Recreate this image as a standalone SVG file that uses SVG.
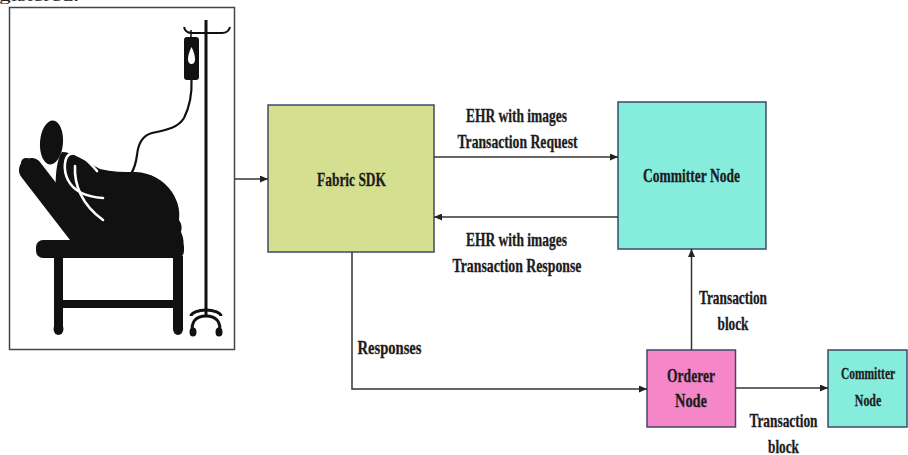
<svg xmlns="http://www.w3.org/2000/svg" width="908" height="455" viewBox="0 0 908 455">
  <style>
    .lbl { font-family: "Liberation Serif", "Times New Roman", serif; font-weight: bold; font-size: 19px; fill: #1c1c1c; stroke: #1c1c1c; stroke-width: 0.3; text-anchor: middle; }
    .sm { font-size: 17px; }
    .box { stroke: #3d4a68; stroke-width: 1.5; }
    .wire { fill: none; stroke: #333; stroke-width: 1.5; }
    .ink { fill: #111; }
    .gap { fill: none; stroke: #fff; stroke-width: 2.6; stroke-linecap: round; }
  </style>
  <defs>
    <marker id="arrow" markerWidth="8" markerHeight="7" refX="8" refY="3.5" orient="auto" markerUnits="userSpaceOnUse">
      <path d="M0,0 L8,3.5 L0,7 z" fill="#222"/>
    </marker>
  </defs>

  <rect width="908" height="455" fill="#fff"/>

  <!-- trailing line of the caption above -->
  <text x="-1" y="1" style="font-family: 'Liberation Serif', serif; font-size: 14px; fill: #222;" textLength="80" lengthAdjust="spacingAndGlyphs">gistered.</text>

  <!-- patient in hospital bed -->
  <g id="patient">
    <rect x="9.5" y="7.5" width="225" height="342" fill="#fff" stroke="#444" stroke-width="1.5"/>
    <!-- IV pole -->
    <line x1="206" y1="20" x2="206" y2="316" stroke="#111" stroke-width="3"/>
    <path d="M184,27 C185,32 188,33 192,33 L222,33 C226,33 229,31 230,27" fill="none" stroke="#111" stroke-width="2"/>
    <path d="M191,316 C191,313 198,310 206,310 C214,310 221,313 221,316" fill="none" stroke="#111" stroke-width="3"/>
    <path d="M193,333 C190,322 196,316 206,316 C216,316 222,322 219,333" fill="none" stroke="#111" stroke-width="3"/>
    <ellipse cx="193" cy="332" rx="3.5" ry="4.5" class="ink"/>
    <ellipse cx="219" cy="332" rx="3.5" ry="4.5" class="ink"/>
    <!-- IV bag -->
    <line x1="191" y1="30" x2="191" y2="38" stroke="#111" stroke-width="1.5"/>
    <rect x="184" y="37" width="15" height="43" rx="3" class="ink"/>
    <path d="M191.5,47 C194,52 195,56 195,59 C195,63 193,64 191.5,64 C190,64 188,63 188,59 C188,56 189,52 191.5,47 z" fill="#fff"/>
    <!-- drip line -->
    <path d="M191.5,80 C192,92 191,104 184,118 C178,128 166,130 152,133 C141,136 138,145 137,155 C136,163 134,169 131,174" fill="none" stroke="#111" stroke-width="2.2"/>
    <!-- head -->
    <ellipse cx="51.5" cy="142.5" rx="11.5" ry="22" transform="rotate(4 51.5 142.5)" class="ink"/>
    <!-- raised arm / backrest -->
    <line x1="31" y1="170" x2="82" y2="236" stroke="#111" stroke-width="24" stroke-linecap="round"/>
    <circle cx="26" cy="163" r="5" class="ink"/>
    <!-- body mass -->
    <path class="ink" d="M62,152 C72,152 84,160 100,169 C112,172 124,172 136,172 C150,173 163,179 172,192 C179,203 180,212 179,220 C182,224 182,228 181,232 C184,238 184,244 183,250 L80,250 C70,240 58,222 56,200 C55,180 56,160 62,152 z"/>
    <!-- arm outline -->
    <path class="gap" d="M97,171 C88,160 78,151 70,154 C64,157 63,170 68,180 C74,192 88,197 103,198"/>
    <path class="gap" d="M75,166 C74,185 82,205 103,220"/>
    <!-- mattress -->
    <rect x="36" y="240" width="148" height="18" rx="7" class="ink"/>
    <!-- bed frame -->
    <rect x="54" y="256" width="9" height="74" class="ink"/>
    <rect x="173" y="256" width="10" height="74" class="ink"/>
    <rect x="58" y="300" width="120" height="8" class="ink"/>
    <ellipse cx="58.5" cy="329" rx="5" ry="6" class="ink"/>
    <ellipse cx="178" cy="329" rx="5" ry="6" class="ink"/>
  </g>

  <g id="fabric-sdk">
    <rect class="box" x="268" y="105" width="166" height="147" fill="#d4e08f"/>
    <text class="lbl" x="351.5" y="186" textLength="69" lengthAdjust="spacingAndGlyphs">Fabric SDK</text>
  </g>

  <g id="committer-node">
    <rect class="box" x="618" y="102" width="148" height="147" fill="#86ecdc"/>
    <text class="lbl" x="691.5" y="182" textLength="97" lengthAdjust="spacingAndGlyphs">Committer Node</text>
  </g>

  <g id="orderer-node">
    <rect class="box" x="647" y="350" width="88.5" height="77" fill="#f587c8"/>
    <text class="lbl" x="691" y="381.5" textLength="48" lengthAdjust="spacingAndGlyphs">Orderer</text>
    <text class="lbl" x="691" y="406.5" textLength="32" lengthAdjust="spacingAndGlyphs">Node</text>
  </g>

  <g id="committer-node-2">
    <rect class="box" x="828" y="350" width="79" height="77" fill="#86ecdc"/>
    <text class="lbl sm" transform="translate(868 378.5) scale(0.675 1)">Committer</text>
    <text class="lbl sm" transform="translate(868 406) scale(0.7 1)">Node</text>
  </g>

  <g id="connectors">
    <line class="wire" x1="235" y1="179" x2="268" y2="179" marker-end="url(#arrow)"/>
    <line class="wire" x1="434" y1="157" x2="618" y2="157" marker-end="url(#arrow)"/>
    <line class="wire" x1="618" y1="217" x2="434" y2="217" marker-end="url(#arrow)"/>
    <path class="wire" d="M352,252 V389 H647" marker-end="url(#arrow)"/>
    <line class="wire" x1="691.5" y1="350" x2="691.5" y2="249" marker-end="url(#arrow)"/>
    <line class="wire" x1="735.5" y1="388" x2="828" y2="388" marker-end="url(#arrow)"/>

    <text class="lbl" x="516.5" y="122" textLength="101" lengthAdjust="spacingAndGlyphs">EHR with images</text>
    <text class="lbl" x="517.5" y="148" textLength="120" lengthAdjust="spacingAndGlyphs">Transaction Request</text>
    <text class="lbl" x="516.5" y="245.5" textLength="101" lengthAdjust="spacingAndGlyphs">EHR with images</text>
    <text class="lbl" x="517" y="271.5" textLength="129" lengthAdjust="spacingAndGlyphs">Transaction Response</text>
    <text class="lbl" x="389.5" y="353.5" textLength="64" lengthAdjust="spacingAndGlyphs">Responses</text>
    <text class="lbl" x="733" y="303.5" textLength="68" lengthAdjust="spacingAndGlyphs">Transaction</text>
    <text class="lbl" x="733" y="329.5" textLength="31" lengthAdjust="spacingAndGlyphs">block</text>
    <text class="lbl" x="783.5" y="427" textLength="68" lengthAdjust="spacingAndGlyphs">Transaction</text>
    <text class="lbl" x="783.5" y="452.5" textLength="31" lengthAdjust="spacingAndGlyphs">block</text>
  </g>
</svg>
